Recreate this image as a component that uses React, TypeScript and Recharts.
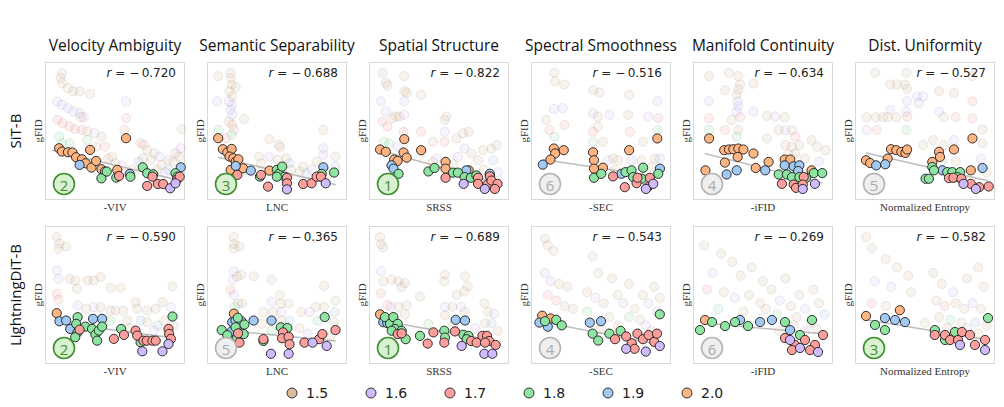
import React from "react";
import { ScatterChart, Scatter, XAxis, YAxis, ReferenceLine } from "recharts";

// [x, y, level] in normalized axis units (0..100); level picks the colour
type Pt = [number, number, number];

const LEVELS = [1.5, 1.6, 1.7, 1.8, 1.9, 2.0];
const LEVEL_COLORS: Record<string, string> = {
  "1.5": "#debb9b",
  "1.6": "#d0bbff",
  "1.7": "#ff9f9b",
  "1.8": "#8de5a1",
  "1.9": "#a1c9f4",
  "2.0": "#ffb482",
};

const METRICS = [
  "Velocity Ambiguity",
  "Semantic Separability",
  "Spatial Structure",
  "Spectral Smoothness",
  "Manifold Continuity",
  "Dist. Uniformity",
];
const X_LABELS = ["-VIV", "LNC", "SRSS", "-SEC", "-iFID", "Normalized Entropy"];
const MODELS = ["SiT-B", "LightningDiT-B"];

const SIT_R = [-0.72, -0.688, -0.822, -0.516, -0.634, -0.527];
const LDIT_R = [-0.59, -0.365, -0.689, -0.543, -0.269, -0.582];
const SIT_RANK = [2, 3, 1, 6, 4, 5];
const LDIT_RANK = [2, 5, 1, 4, 6, 3];

// ---------- SiT-B ----------
const sitVivHi: Pt[] = [
  [10.1, 37.5, 2.0], [12.1, 35.1, 2.0], [16.4, 34.6, 2.0], [19.6, 34.4, 2.0], [22.2, 31.0, 2.0], [26.4, 29.5, 2.0],
  [32.2, 36.3, 2.0], [29.0, 26.6, 2.0], [33.2, 23.5, 2.0], [36.5, 28.3, 2.0], [40.3, 22.3, 2.0], [51.6, 21.8, 2.0], [57.9, 44.8, 2.0],
  [24.7, 25.4, 1.9], [42.8, 20.6, 1.9], [60.5, 18.9, 1.9], [97, 23.7, 1.9],
  [40.3, 15.7, 1.8], [44.1, 20.6, 1.8], [50.9, 16.2, 1.8], [61, 16.9, 1.8], [69.8, 23.7, 1.8], [73, 19.4, 1.8], [77.3, 18.6, 1.8], [93.2, 19.4, 1.8], [94.5, 16.9, 1.8],
  [52.9, 17.4, 1.7], [73, 10.2, 1.7], [76.8, 16.9, 1.7], [80.6, 11.6, 1.7], [84.4, 11.6, 1.7], [94.5, 15, 1.7], [96.2, 16.9, 1.7],
  [89.4, 8.5, 1.6], [93.2, 12.1, 1.6],
];
const sitVivBg: Pt[] = [
  [12.1, 92, 1.5], [11.3, 88.4, 1.5], [12.1, 84.7, 1.5], [16.4, 81.1, 1.5], [20.2, 78.7, 1.5], [24.7, 78.7, 1.5], [32.2, 77, 1.5],
  [8.8, 71.4, 1.6], [12.1, 69, 1.6], [16.4, 66.6, 1.6], [20.2, 64.2, 1.6], [24.7, 63, 1.6], [27.7, 60, 1.6], [25.7, 60, 1.5],
  [8.8, 58.1, 1.7], [12.6, 55.7, 1.7], [17.6, 53.3, 1.7], [21.4, 51.3, 1.7], [26.4, 50.8, 1.7], [30.2, 49.6, 1.5], [35.3, 48.4, 1.6],
  [40.3, 46, 1.5], [10.1, 46, 1.8], [12.1, 41.2, 1.8], [17.6, 41.2, 1.8], [57.9, 71.4, 1.6], [57.9, 59.3, 1.7], [56.7, 50.8, 1.5],
  [68, 41.2, 1.5], [70.5, 40, 1.7], [73, 36.3, 1.5], [78.1, 33.9, 1.5], [81.9, 31.5, 1.6], [88.2, 29, 1.5], [91.9, 27.8, 1.5],
  [95.7, 31.5, 1.5], [97, 37.5, 1.6], [97.5, 51.3, 1.5], [93.2, 33.9, 1.7], [66.8, 27.8, 1.9], [75.6, 29, 1.5], [42.8, 38.7, 1.7],
  [47.9, 31.5, 1.5], [36.5, 38.7, 1.5], [30.2, 43.6, 1.8], [50.4, 26.6, 1.5], [83.1, 25.4, 1.5], [88.2, 21.8, 1.9],
  [45, 30, 1.5], [55, 25, 1.6], [62, 22, 1.5], [80, 22, 1.5], [86, 20, 1.6], [70, 30, 1.5],
];
const sitLncHi: Pt[] = [
  [8, 44.8, 2.0], [11.3, 36.8, 2.0], [14.5, 34.4, 2.0], [17.6, 37, 2.0], [16.1, 31.5, 2.0], [18.8, 30.3, 2.0], [20.5, 27.8, 2.0],
  [22.4, 29.5, 2.0], [25.8, 23, 2.0], [44.6, 21.3, 2.0], [16.9, 21.8, 2.0],
  [20.5, 24.7, 1.9], [31.3, 21.3, 1.9], [83.1, 23.7, 1.9],
  [37.8, 16.9, 1.8], [49.9, 21.8, 1.8], [51.3, 18.9, 1.8], [53.7, 24.2, 1.8], [55.4, 16.9, 1.8], [49.9, 16.9, 1.8], [81.9, 18.9, 1.8], [90.8, 19.9, 1.8],
  [21.7, 18.2, 1.7], [38.6, 18.2, 1.7], [43.6, 9.7, 1.7], [57.1, 16.2, 1.7], [57.1, 12.1, 1.7], [68.7, 11.6, 1.7], [74.7, 12.1, 1.7], [78.3, 16.9, 1.7], [81.4, 16.9, 1.7],
  [57.1, 7.7, 1.6], [84.8, 12.1, 1.6],
];
const sitLncBg: Pt[] = [
  [8, 89.6, 1.5], [16.9, 92, 1.5], [16.9, 88.4, 1.5], [17.6, 83.5, 1.5], [20.5, 81.8, 1.5], [16.1, 78.7, 1.5], [18.1, 75.1, 1.5],
  [15.7, 71.4, 1.6], [7.2, 71.4, 1.6], [18.1, 69, 1.6], [16.9, 65.4, 1.6], [18.1, 61.7, 1.6], [26.5, 58.6, 1.5], [15.7, 56.9, 1.5],
  [18.1, 54.5, 1.7], [19.3, 50.8, 1.5], [17.6, 47.2, 1.8], [8.4, 50.8, 1.8], [13.7, 44.8, 1.7], [44.6, 44.1, 1.5], [51.3, 40, 1.5],
  [52.3, 38.3, 1.5], [37.3, 31.5, 1.5], [44.6, 31.5, 1.6], [50.6, 29.1, 1.5], [56.6, 30.3, 1.5], [59, 26.6, 1.9], [66.3, 20.6, 1.5],
  [71.1, 19.4, 1.9], [78.3, 27.8, 1.5], [83.1, 37.5, 1.6], [83.1, 50.8, 1.5], [83.1, 32.7, 1.6], [91.6, 31.5, 1.5], [91.6, 24.2, 1.9],
  [68.7, 24.2, 1.5], [38.6, 26.6, 1.5], [27.7, 21.8, 1.9], [60, 22, 1.5], [75, 22, 1.6], [86, 18, 1.5],
];
const sitSrssHi: Pt[] = [
  [7.9, 36.6, 2.0], [12, 34.9, 2.0], [25.2, 44.1, 2.0], [24.7, 34.4, 2.0], [26.9, 30.7, 2.0], [18, 29.3, 2.0], [20.4, 28.3, 2.0],
  [37.2, 36.1, 2.0], [54.7, 27.6, 2.0], [54.7, 22.7, 2.0], [71.2, 21.5, 2.0], [86.3, 17.8, 2.0],
  [16.1, 25.1, 1.9], [17.5, 22.7, 1.9], [69.5, 21.5, 1.9], [86.3, 19, 1.9],
  [21.1, 19, 1.8], [42.4, 20.7, 1.8], [46.8, 23.2, 1.8], [60, 19.8, 1.8], [63.5, 19.8, 1.8], [68.3, 16.6, 1.8], [72.7, 16.1, 1.8], [76.7, 17.8, 1.8],
  [54.7, 16.1, 1.7], [77.9, 16.1, 1.7], [86.3, 17.1, 1.7], [77.9, 11.7, 1.7], [84.7, 11.2, 1.7], [87.5, 14.1, 1.7], [91.8, 11.7, 1.7], [89.9, 8, 1.7],
  [67.6, 11.7, 1.6], [82.7, 8, 1.6],
];
const sitSrssBg: Pt[] = [
  [9.6, 92.2, 1.5], [12, 84.9, 1.5], [13.2, 82.9, 1.5], [25.2, 89.8, 1.5], [25.2, 78.8, 1.5], [27.1, 78, 1.5], [37.2, 76.3, 1.5],
  [8.4, 71.5, 1.6], [12, 64.1, 1.6], [25.2, 71.5, 1.6], [19.2, 60.5, 1.5], [16.8, 59.3, 1.5], [21.6, 60.5, 1.5], [25.2, 61.7, 1.6],
  [9.6, 56.8, 1.7], [13.2, 53.2, 1.7], [24.7, 49.5, 1.7], [10.8, 42.2, 1.8], [14.4, 41, 1.8], [20.4, 38.5, 1.6], [37.2, 49.5, 1.7],
  [55.2, 60.5, 1.5], [54, 58, 1.5], [45.6, 42.2, 1.5], [54, 49.5, 1.6], [54, 42.2, 1.7], [62.4, 44.6, 1.5], [67.1, 48.3, 1.5],
  [71.2, 49.5, 1.5], [68.3, 37.3, 1.6], [73.1, 33.7, 1.5], [81.5, 36.1, 1.5], [87.5, 37.3, 1.5], [91.1, 39.8, 1.5], [88.7, 28.8, 1.9],
  [77.9, 28.8, 1.5], [63.5, 31.2, 1.6], [48, 30, 1.6], [45.6, 27.6, 1.5], [38.4, 34.9, 1.6], [60, 26, 1.5], [82, 22, 1.5], [92, 20, 1.6],
];
const sitSecHi: Pt[] = [
  [16.3, 37.3, 2.0], [17.2, 33.7, 2.0], [23.4, 36.1, 2.0], [13.9, 29.3, 2.0], [44.3, 34.6, 2.0], [45, 28.8, 2.0], [45, 22.7, 2.0],
  [51.4, 23.4, 2.0], [70.1, 36.1, 2.0], [90.2, 44.6, 2.0],
  [8.4, 25.6, 1.9], [64.6, 19, 1.9], [92.1, 22.7, 1.9],
  [45, 16.1, 1.8], [50.2, 19, 1.8], [67.5, 20.2, 1.8], [71.8, 21.5, 1.8], [80.1, 23.4, 1.8], [90.9, 19, 1.8], [73, 16.6, 1.8], [78.9, 15.4, 1.8],
  [58.6, 17.1, 1.7], [67, 9.3, 1.7], [75.4, 12.2, 1.7], [84.9, 16.1, 1.7], [83.3, 9.3, 1.7], [76.1, 16.1, 1.7],
  [82.1, 8, 1.6], [87.3, 11.7, 1.6],
];
const sitSecBg: Pt[] = [
  [16.7, 92.2, 1.5], [17.2, 86.1, 1.5], [23.9, 83.7, 1.5], [44.3, 79.5, 1.5], [49, 78, 1.5], [70.1, 76.3, 1.5], [90.4, 71.5, 1.6],
  [10.8, 58, 1.5], [16.3, 65.9, 1.6], [22.7, 66.6, 1.6], [44.3, 62.9, 1.6], [47.8, 60.5, 1.5], [56.2, 61.7, 1.6], [69.4, 61.7, 1.5],
  [83.7, 60.5, 1.6], [90.9, 59.3, 1.7], [13.2, 50.7, 1.7], [16.7, 45.9, 1.8], [23.9, 54.4, 1.7], [44.3, 49.5, 1.7], [47.8, 53.2, 1.5],
  [70.6, 49.5, 1.7], [90.4, 50.7, 1.8], [80.1, 42.2, 1.5], [58.6, 30, 1.5], [55, 28.8, 1.6], [62.2, 28.8, 1.5], [71.8, 28.8, 1.6],
  [78.9, 28.8, 1.5], [88.5, 30, 1.5], [92.1, 30, 1.9], [44.3, 42.2, 1.8], [51.4, 42.2, 1.5], [60, 22, 1.5], [86, 24, 1.5],
];
const sitIfidHi: Pt[] = [
  [11.5, 44.6, 2.0], [22.3, 36.1, 2.0], [25.7, 36.6, 2.0], [28.8, 36.8, 2.0], [32.4, 37.3, 2.0], [36, 36.6, 2.0], [31.9, 31.2, 2.0],
  [43.2, 33.7, 2.0], [22.8, 27.1, 2.0], [44.8, 23.2, 2.0], [54, 27.6, 2.0], [65.5, 29.3, 2.0], [69.5, 29.3, 2.0], [84.7, 21.5, 2.0], [8.9, 21.5, 2.0],
  [24, 18.5, 1.9], [31.2, 21.5, 1.9], [51.6, 21.5, 1.9], [65.5, 25.1, 1.9], [71.9, 24.4, 1.9], [76, 25.1, 1.9], [75.1, 21, 1.9],
  [61.2, 18.5, 1.8], [67.1, 18.5, 1.8], [70.7, 16.6, 1.8], [76, 16.6, 1.8], [86.3, 19.5, 1.8], [92.3, 19.5, 1.8], [80.8, 16.1, 1.8],
  [63.5, 11.7, 1.7], [71.9, 11.2, 1.7], [73.6, 8.8, 1.7], [79.1, 16.6, 1.7], [78.4, 11.2, 1.7],
  [78.4, 8, 1.6], [87.1, 11.7, 1.6],
];
const sitIfidBg: Pt[] = [
  [11.5, 89.8, 1.5], [25.7, 92.2, 1.5], [32.4, 89.8, 1.5], [33.6, 83.7, 1.5], [32.4, 80, 1.5], [31.2, 76.3, 1.5], [22.8, 79.5, 1.5],
  [43.2, 84.4, 1.5], [11.3, 71.5, 1.6], [31.9, 71.5, 1.6], [32.4, 67.8, 1.6], [31.2, 64.1, 1.6], [33.6, 60, 1.7], [27.6, 58, 1.5],
  [22.8, 50.7, 1.7], [32.4, 50.7, 1.5], [31.2, 45.9, 1.8], [43.2, 64.1, 1.6], [52.8, 61, 1.5], [65.5, 60, 1.5], [65.9, 50.7, 1.6],
  [61.2, 50.7, 1.5], [70.7, 50.7, 1.5], [73.1, 45.9, 1.7], [84.7, 43.4, 1.5], [76, 39.8, 1.5], [88.7, 38.5, 1.5], [94.7, 36.1, 1.5],
  [52.8, 44.6, 1.5], [11.3, 59.3, 1.7], [11.3, 50.7, 1.8], [65.9, 39.8, 1.7], [70.7, 38.5, 1.5], [73.1, 33.7, 1.5], [58.8, 60.5, 1.6],
  [68, 33, 1.5], [80, 30, 1.5], [90, 28, 1.6],
];
const sitEntHi: Pt[] = [
  [7.9, 28.8, 2.0], [10.8, 26.8, 2.0], [23.3, 30, 2.0], [25.7, 36.8, 2.0], [29.5, 36.1, 2.0], [33.1, 34.9, 2.0], [36, 34.1, 2.0],
  [37.2, 36.6, 2.0], [55.2, 27.6, 2.0], [60, 34.9, 2.0], [60.7, 31.2, 2.0], [70.7, 36.6, 2.0], [83.9, 44.6, 2.0], [82.7, 21.5, 2.0],
  [15.1, 25.1, 1.9], [21.6, 25.9, 1.9], [62.4, 21.5, 1.9], [91.1, 23.2, 1.9],
  [50.4, 15.4, 1.8], [52.8, 15.4, 1.8], [55.2, 23.9, 1.8], [56.4, 21.5, 1.8], [65.9, 20.2, 1.8], [69.5, 20.2, 1.8], [75.1, 20.2, 1.8], [73.1, 16.6, 1.8],
  [67.1, 15.9, 1.7], [70.3, 16.1, 1.7], [76, 15.4, 1.7], [82.7, 11.7, 1.7], [88.7, 9.3, 1.7], [95.5, 9.8, 1.7],
  [77.5, 11.7, 1.6], [86.3, 8, 1.6],
];
const sitEntBg: Pt[] = [
  [14.4, 92.2, 1.5], [36.7, 92.2, 1.5], [25.2, 83.7, 1.5], [30, 83.7, 1.5], [35.5, 83.7, 1.5], [37.2, 80.5, 1.5], [44.4, 75.1, 1.6],
  [48.7, 75.1, 1.6], [45.6, 70.2, 1.6], [37.2, 71.5, 1.6], [25.2, 65.4, 1.6], [36.7, 64.1, 1.6], [8.4, 60, 1.5], [15.1, 60, 1.5],
  [19.9, 60, 1.5], [23.3, 60, 1.5], [29.5, 60, 1.5], [37.2, 60.5, 1.7], [8.4, 50.7, 1.6], [15.6, 50.7, 1.7], [36.7, 50.7, 1.8],
  [60, 78.8, 1.5], [70.7, 77.6, 1.5], [60, 64.1, 1.6], [63.5, 60, 1.5], [71.9, 60, 1.7], [83.9, 71.5, 1.7], [83.9, 59.3, 1.7],
  [91.1, 51.2, 1.5], [48.7, 39.8, 1.5], [55.9, 43.4, 1.5], [63.5, 39.8, 1.5], [70.7, 43.4, 1.6], [91.1, 41, 1.5], [83.9, 89.8, 1.5],
  [62, 28, 1.5], [72, 28, 1.5], [90, 30, 1.6], [94, 20, 1.5],
];

// ---------- LightningDiT-B ----------
const ldVivHi: Pt[] = [
  [8.4, 36.8, 2.0],
  [10.3, 31, 1.9], [15.1, 31.5, 1.9], [18, 25.4, 1.9], [34.3, 32.7, 1.9], [40.8, 32.7, 1.9],
  [23.3, 33.9, 1.8], [22.3, 29.1, 1.8], [23.3, 23, 1.8], [28.8, 27.1, 1.8], [21.6, 19.4, 1.8], [33.6, 25.4, 1.8], [36, 21.3, 1.8],
  [38.4, 24.2, 1.8], [37.2, 16.9, 1.8], [40.8, 27.1, 1.8], [54.4, 25.4, 1.8], [68.3, 15.7, 1.8], [91.1, 34.4, 1.8],
  [24.7, 24.9, 1.7], [49.2, 18.2, 1.7], [56.4, 21.1, 1.7], [64.7, 24.2, 1.7], [65.9, 20.6, 1.7], [70.3, 16.9, 1.7], [72.7, 16.9, 1.7],
  [76.7, 16.9, 1.7], [79.1, 16.9, 1.7], [88.2, 25.4, 1.7], [88.7, 21.8, 1.7], [89.9, 18.2, 1.7],
  [69.5, 9.2, 1.6], [83.9, 9.2, 1.6], [88.2, 14.5, 1.6],
];
const ldVivBg: Pt[] = [
  [8.4, 92, 1.5], [10.3, 87.2, 1.5], [9.6, 83.5, 1.5], [15.1, 85.2, 1.5], [8.4, 67.8, 1.6], [9.6, 61.7, 1.6], [17.5, 61.7, 1.5],
  [21.6, 60.5, 1.5], [22.8, 54.5, 1.5], [30.5, 60.5, 1.5], [34.8, 60.5, 1.5], [39.6, 63, 1.5], [46.8, 55.2, 1.5], [54, 55.2, 1.5],
  [8.4, 50.8, 1.7], [9.6, 46.5, 1.7], [23.3, 42.4, 1.6], [29.5, 40, 1.5], [34.8, 41.2, 1.6], [39.6, 41.2, 1.5], [46.8, 38.7, 1.5],
  [50.4, 38.7, 1.5], [55.9, 38.7, 1.5], [64.7, 44.8, 1.5], [65.9, 40, 1.5], [73.1, 38.7, 1.5], [79.1, 40, 1.5], [83.9, 44.8, 1.5],
  [91.1, 56.2, 1.5], [89.9, 41.2, 1.6], [68.3, 31.5, 1.9], [73.1, 30.3, 1.5], [80.3, 27.8, 1.9], [85.1, 31.5, 1.5], [46.8, 31.5, 1.8],
  [58.8, 31.5, 1.5], [60, 26, 1.5], [78, 24, 1.6], [92, 28, 1.5],
];
const ldLncHi: Pt[] = [
  [19.2, 36.5, 2.0],
  [18, 30.3, 1.9], [20.4, 31.5, 1.9], [24.6, 31, 1.9], [17.6, 23.6, 1.9], [33.3, 31.5, 1.9], [46.1, 31.5, 1.9], [22.2, 23.6, 1.9],
  [10.5, 24.6, 1.8], [14.5, 20.9, 1.8], [22, 33.5, 1.8], [26.7, 28.6, 1.8], [20.4, 26.6, 1.8], [21.5, 19.2, 1.8], [40.3, 16.7, 1.8],
  [52.7, 26.6, 1.8], [57.4, 26.1, 1.8], [84.1, 34, 1.8], [26.2, 21.7, 1.8],
  [22.2, 22.2, 1.7], [23.2, 15.5, 1.7], [40.3, 18, 1.7], [54.3, 22.9, 1.7], [53.6, 18.7, 1.7], [58.3, 19.7, 1.7], [59, 14.3, 1.7],
  [69.6, 15.5, 1.7], [80.1, 18, 1.7], [82.4, 21.7, 1.7], [91.8, 24.6, 1.7],
  [45.7, 7.4, 1.6], [58.3, 7.4, 1.6], [75.4, 15.5, 1.6], [85.5, 13.1, 1.6],
];
const ldLncBg: Pt[] = [
  [19.2, 91.9, 1.5], [19.2, 86.9, 1.5], [23.2, 85.2, 1.5], [19.2, 83.7, 1.5], [19.2, 67.2, 1.6], [18.5, 61.1, 1.6], [21.5, 63.5, 1.5],
  [24.6, 64.8, 1.5], [33.3, 63.5, 1.5], [16.9, 53.7, 1.7], [19.2, 50, 1.6], [22.2, 43.8, 1.5], [25.1, 43.8, 1.5], [19.9, 41.4, 1.8],
  [46.1, 61.1, 1.5], [52, 50, 1.5], [46.1, 45.1, 1.6], [40.3, 37.7, 1.5], [52.7, 43.8, 1.5], [58.3, 43.8, 1.5], [53.2, 37.7, 1.6],
  [47.3, 37.7, 1.5], [67.2, 37.7, 1.5], [73.1, 37.7, 1.6], [83.6, 56.7, 1.5], [83.6, 41.4, 1.5], [91.8, 45.8, 1.5], [91.1, 37.7, 1.9],
  [90.6, 30.3, 1.5], [77.8, 41.4, 1.5], [78.9, 31.5, 1.8], [53.2, 31.5, 1.5], [59, 31.5, 1.9], [39.1, 29.1, 1.5], [46.1, 24.1, 1.8],
  [66, 26, 1.5], [72, 22, 1.6], [88, 20, 1.5],
];
const ldSrssHi: Pt[] = [
  [7.9, 36, 2.0],
  [10.2, 30.3, 1.9], [13.1, 29.6, 1.9], [61.9, 32, 1.9], [68.6, 31.5, 1.9],
  [11.4, 34, 1.8], [15, 29.1, 1.8], [17.4, 34, 1.8], [20.5, 29.1, 1.8], [18.6, 25.4, 1.8], [23.3, 24.1, 1.8], [26.2, 18, 1.8],
  [16.2, 24.1, 1.8], [36.4, 20.4, 1.8], [53.8, 24.1, 1.8], [54.3, 19.2, 1.8], [67.4, 21.2, 1.8], [71, 20.4, 1.8], [69.8, 18, 1.8],
  [20.5, 21.7, 1.7], [23.3, 22.2, 1.7], [41.9, 14.8, 1.7], [46, 22.9, 1.7], [53.8, 15.5, 1.7], [61.4, 23.6, 1.7], [72.9, 16.7, 1.7],
  [76.9, 15.5, 1.7], [81, 20.4, 1.7], [84.3, 20.4, 1.7], [85.7, 16.7, 1.7], [90.5, 13.8, 1.7], [82.9, 15.5, 1.7],
  [66.2, 13.1, 1.6], [82.4, 7.4, 1.6], [88.1, 7.4, 1.6],
];
const ldSrssBg: Pt[] = [
  [7.9, 91.9, 1.5], [8.6, 86.9, 1.5], [10.2, 84.5, 1.5], [8.6, 67.2, 1.6], [10.2, 59.9, 1.5], [16.2, 61.1, 1.5], [21, 59.9, 1.5],
  [25.7, 58.6, 1.5], [23.3, 55.7, 1.5], [8.6, 51.2, 1.7], [13.3, 42.6, 1.7], [15.7, 41.4, 1.6], [21, 41.4, 1.5], [26.9, 42.6, 1.5],
  [36.4, 48.8, 1.5], [54.3, 64.8, 1.5], [53.8, 59.9, 1.5], [62.6, 50, 1.5], [68.6, 63.5, 1.5], [70.5, 56.2, 1.5], [68.1, 52.5, 1.5],
  [54.3, 41.4, 1.6], [59.5, 41.4, 1.5], [65.7, 41.4, 1.6], [68.6, 37.7, 1.5], [82.4, 43.8, 1.5], [85.2, 37.7, 1.5], [89.5, 36.5, 1.6],
  [87.6, 29.6, 1.9], [82.9, 29.6, 1.5], [54.3, 35.2, 1.5], [42.4, 29.1, 1.8], [25.7, 36, 1.5], [60, 28, 1.5], [76, 26, 1.6], [92, 24, 1.5],
];
const ldSecHi: Pt[] = [
  [8, 35, 2.0], [14, 33, 2.0],
  [6, 30, 1.9], [42, 30, 1.9], [50, 31, 1.9], [12, 27, 1.9],
  [10, 31, 1.8], [18, 32, 1.8], [22, 28, 1.8], [44, 22, 1.8], [48, 17, 1.8], [56, 22, 1.8], [92, 36, 1.8], [64, 24, 1.8],
  [60, 18, 1.7], [68, 20, 1.7], [72, 15, 1.7], [76, 22, 1.7], [80, 18, 1.7], [84, 21, 1.7], [88, 16, 1.7], [90, 22, 1.7], [74, 11, 1.7],
  [68, 11, 1.6], [82, 9, 1.6], [92, 13, 1.6],
];
const ldSecBg: Pt[] = [
  [10, 91, 1.5], [12, 86, 1.5], [16, 82, 1.5], [44, 78, 1.5], [48, 66, 1.5], [10, 66, 1.6], [14, 60, 1.6], [20, 58, 1.5],
  [26, 56, 1.5], [12, 50, 1.7], [18, 46, 1.7], [24, 42, 1.5], [40, 52, 1.5], [46, 48, 1.6], [52, 44, 1.5], [58, 62, 1.5],
  [62, 50, 1.5], [66, 44, 1.6], [70, 58, 1.5], [74, 40, 1.5], [80, 50, 1.5], [84, 44, 1.6], [88, 56, 1.5], [92, 48, 1.5],
  [90, 38, 1.9], [78, 32, 1.5], [70, 34, 1.8], [56, 34, 1.5], [40, 38, 1.8], [30, 40, 1.5], [62, 28, 1.5], [82, 28, 1.6],
  [86, 24, 1.5], [50, 26, 1.5],
];
const ldIfidHi: Pt[] = [
  [8.6, 31.9, 2.0],
  [33.6, 31.9, 1.9], [47.9, 30.4, 1.9], [56.4, 31.9, 1.9], [69.3, 24.6, 1.9],
  [5, 24.6, 1.8], [13.6, 30.4, 1.8], [22.9, 27.5, 1.8], [30, 30.4, 1.8], [39.3, 27.5, 1.8], [65.7, 30.4, 1.8], [76.4, 21, 1.8], [85, 31.9, 1.8],
  [65.7, 18.8, 1.7], [72.9, 13.8, 1.7], [80, 17.4, 1.7], [87.1, 13.8, 1.7], [92.9, 21, 1.7], [83.6, 10.1, 1.7], [70.7, 10.1, 1.7],
  [76.4, 11.6, 1.6], [89.3, 8.7, 1.6], [69.3, 17.4, 1.6],
];
const ldIfidBg: Pt[] = [
  [8, 86, 1.5], [20, 80, 1.5], [28, 74, 1.5], [14, 66, 1.6], [34, 64, 1.5], [42, 70, 1.5], [50, 60, 1.5], [10, 54, 1.7],
  [22, 52, 1.5], [30, 48, 1.6], [40, 50, 1.5], [48, 44, 1.5], [56, 54, 1.5], [62, 46, 1.6], [66, 62, 1.5], [70, 42, 1.5],
  [76, 50, 1.5], [80, 40, 1.6], [86, 54, 1.5], [90, 44, 1.5], [94, 36, 1.9], [74, 34, 1.5], [60, 36, 1.8], [36, 38, 1.5],
  [18, 40, 1.8], [84, 30, 1.5], [88, 26, 1.5], [52, 40, 1.5], [72, 28, 1.5], [80, 24, 1.6], [62, 24, 1.5],
];
const ldEntHi: Pt[] = [
  [7.9, 34.8, 2.0], [32, 39, 2.0],
  [21.4, 33.3, 1.9], [28.6, 31.9, 1.9], [35.7, 30.4, 1.9],
  [14.3, 28.3, 1.8], [21.4, 24.6, 1.8], [57, 24.6, 1.8], [64.3, 17.4, 1.8], [71.4, 23.2, 1.8], [95, 33.3, 1.8],
  [57, 21, 1.7], [64.3, 21, 1.7], [67.9, 17.4, 1.7], [73.6, 17.4, 1.7], [76.4, 23.2, 1.7], [82.1, 21, 1.7], [85.7, 13.8, 1.7], [92.9, 17.4, 1.7],
  [75, 13.8, 1.6], [92.9, 10.1, 1.6],
];
const ldEntBg: Pt[] = [
  [8, 92, 1.5], [12, 84, 1.5], [22, 76, 1.5], [30, 70, 1.5], [38, 64, 1.5], [14, 60, 1.6], [26, 56, 1.6], [40, 52, 1.5],
  [56, 66, 1.5], [62, 58, 1.5], [70, 52, 1.6], [80, 62, 1.5], [88, 70, 1.5], [92, 56, 1.5], [58, 46, 1.5], [64, 42, 1.7],
  [72, 44, 1.5], [78, 40, 1.5], [84, 44, 1.6], [90, 40, 1.5], [60, 34, 1.5], [68, 32, 1.8], [76, 30, 1.5], [86, 30, 1.9],
  [94, 28, 1.5], [50, 30, 1.5], [12, 44, 1.7], [22, 42, 1.5], [66, 26, 1.5], [80, 26, 1.6], [88, 22, 1.5],
];

// trend-line endpoints per panel, [x0, y0, x1, y1]
const SIT_FIT = [
  [5, 36, 97, 14], [8, 31, 92, 11], [8, 36, 92, 12], [8.4, 29.3, 93, 16.5], [8.4, 33.7, 92.3, 12.4], [8, 34, 95, 14],
];
const LDIT_FIT = [
  [8, 30, 91, 19], [11, 24.6, 92, 16.7], [8, 31.5, 90.5, 16.7], [6, 31, 92, 14], [5, 30, 92, 22], [8, 32, 92, 18],
];

const SIT_HI = [sitVivHi, sitLncHi, sitSrssHi, sitSecHi, sitIfidHi, sitEntHi];
const SIT_BG = [sitVivBg, sitLncBg, sitSrssBg, sitSecBg, sitIfidBg, sitEntBg];
const LDIT_HI = [ldVivHi, ldLncHi, ldSrssHi, ldSecHi, ldIfidHi, ldEntHi];
const LDIT_BG = [ldVivBg, ldLncBg, ldSrssBg, ldSecBg, ldIfidBg, ldEntBg];

const PANEL_W = 140;
const PANEL_H = 138;
const COL_X = [45, 207, 369, 531, 693, 855];
const ROW_Y = [62, 226];

const toRows = (pts: Pt[]) => pts.map(([x, y, level]) => ({ x, y, level }));
const colorOf = (level: number) => LEVEL_COLORS[level.toFixed(1)];

const fadedDot = (props: any) => (
  <circle
    cx={props.cx}
    cy={props.cy}
    r={4.6}
    fill={colorOf(props.payload.level)}
    fillOpacity={0.18}
    stroke="#000"
    strokeOpacity={0.09}
    strokeWidth={0.9}
  />
);
const solidDot = (props: any) => (
  <circle
    cx={props.cx}
    cy={props.cy}
    r={4.6}
    fill={colorOf(props.payload.level)}
    stroke="#1c1c1c"
    strokeWidth={0.9}
  />
);

function RankBadge({ rank }: { rank: number }) {
  const good = rank <= 3;
  return (
    <svg
      width={30}
      height={30}
      style={{ position: "absolute", left: 4, top: 107, overflow: "visible" }}
    >
      <circle
        cx={15}
        cy={15}
        r={10.5}
        fill={good ? "#d8f1d1" : "#efefef"}
        stroke={good ? "#3f8f30" : "#b4b4b4"}
        strokeWidth={1.6}
      />
      <text
        x={15}
        y={15.5}
        textAnchor="middle"
        dominantBaseline="central"
        fontSize={15}
        fontFamily="'Open Sans', sans-serif"
        fill={good ? "#3f8f30" : "#aaaaaa"}
      >
        {rank}
      </text>
    </svg>
  );
}

function Panel({ hi, bg, fit, r, rank, left, top, xLabel }: any) {
  return (
    <div style={{ position: "absolute", left, top, width: PANEL_W, height: PANEL_H }}>
      <div
        style={{
          position: "absolute",
          inset: 0,
          border: "1.5px solid #d9d9d9",
          boxSizing: "border-box",
        }}
      />
      <ScatterChart width={PANEL_W} height={PANEL_H} margin={{ top: 0, right: 0, bottom: 0, left: 0 }}>
        <XAxis type="number" dataKey="x" domain={[0, 100]} hide />
        <YAxis type="number" dataKey="y" domain={[0, 100]} hide />
        <Scatter data={toRows(bg)} shape={fadedDot} isAnimationActive={false} />
        <ReferenceLine
          segment={[
            { x: fit[0], y: fit[1] },
            { x: fit[2], y: fit[3] },
          ]}
          stroke="#bdbdbd"
          strokeWidth={1.5}
        />
        <Scatter data={toRows(hi)} shape={solidDot} isAnimationActive={false} />
      </ScatterChart>
      <div
        style={{
          position: "absolute",
          right: 9,
          top: 4,
          fontFamily: "'DejaVu Sans', sans-serif",
          fontSize: 12,
          color: "#222",
          whiteSpace: "nowrap",
        }}
      >
        <i>r</i> = −{"\u2009"}{Math.abs(r).toFixed(3)}
      </div>
      <RankBadge rank={rank} />
      <div
        style={{
          position: "absolute",
          left: -7,
          top: PANEL_H / 2,
          transform: "translate(-50%, -50%) rotate(-90deg)",
          fontFamily: "'Liberation Serif', serif",
          fontSize: 11,
          color: "#333",
        }}
      >
        gFID
      </div>
      <div
        style={{
          position: "absolute",
          left: 0,
          width: PANEL_W,
          top: PANEL_H + 1,
          textAlign: "center",
          fontFamily: "'Liberation Serif', serif",
          fontSize: 11,
          color: "#333",
          whiteSpace: "nowrap",
        }}
      >
        {xLabel}
      </div>
    </div>
  );
}

export default function App() {
  const rows = [
    { hi: SIT_HI, bg: SIT_BG, fit: SIT_FIT, r: SIT_R, rank: SIT_RANK },
    { hi: LDIT_HI, bg: LDIT_BG, fit: LDIT_FIT, r: LDIT_R, rank: LDIT_RANK },
  ];
  const legendX = [292, 371, 450, 529, 608, 687];
  return (
    <div
      style={{
        position: "absolute",
        left: 0,
        top: 0,
        width: 1004,
        height: 407,
        background: "#fff",
        overflow: "hidden",
      }}
    >
      <style>{`.recharts-surface{overflow:visible}`}</style>
      {METRICS.map((m, i) => (
        <div
          key={m}
          style={{
            position: "absolute",
            left: COL_X[i] - 30,
            width: PANEL_W + 60,
            top: 34,
            textAlign: "center",
            fontFamily: "'Open Sans', sans-serif",
            fontSize: 15.5,
            color: "#111",
            whiteSpace: "nowrap",
          }}
        >
          {m}
        </div>
      ))}
      {MODELS.map((name, ri) => (
        <div
          key={name}
          style={{
            position: "absolute",
            left: 15,
            top: ROW_Y[ri] + PANEL_H / 2,
            transform: "translate(-50%, -50%) rotate(-90deg)",
            fontFamily: "'Open Sans', sans-serif",
            fontSize: 15,
            color: "#111",
            whiteSpace: "nowrap",
          }}
        >
          {name}
        </div>
      ))}
      {rows.map((row, ri) =>
        METRICS.map((m, ci) => (
          <Panel
            key={`${ri}-${ci}`}
            hi={row.hi[ci]}
            bg={row.bg[ci]}
            fit={row.fit[ci]}
            r={row.r[ci]}
            rank={row.rank[ci]}
            left={COL_X[ci]}
            top={ROW_Y[ri]}
            xLabel={X_LABELS[ci]}
          />
        ))
      )}
      {LEVELS.map((lv, i) => (
        <div
          key={lv}
          style={{
            position: "absolute",
            left: legendX[i] - 6,
            top: 385,
            display: "flex",
            alignItems: "center",
            fontFamily: "'DejaVu Sans', sans-serif",
            fontSize: 14,
            color: "#222",
          }}
        >
          <svg width={12} height={12} style={{ marginRight: 8 }}>
            <circle cx={6} cy={6} r={5} fill={colorOf(lv)} stroke="#333" strokeWidth={1} />
          </svg>
          {lv.toFixed(1)}
        </div>
      ))}
    </div>
  );
}
